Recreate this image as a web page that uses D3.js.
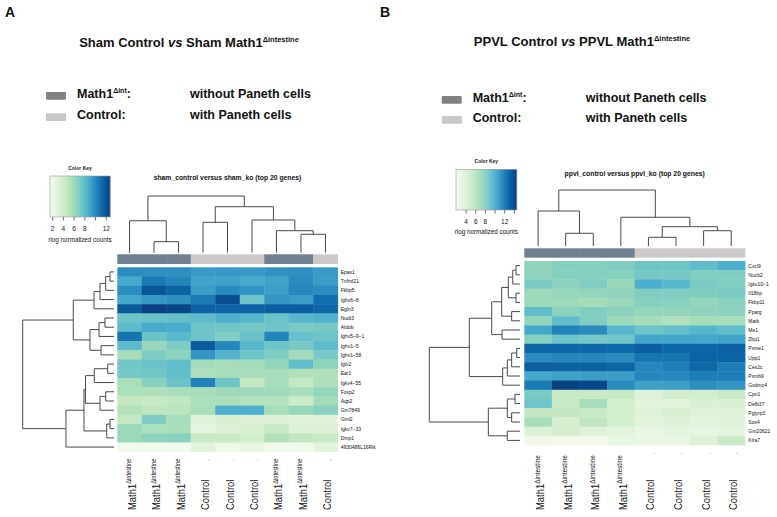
<!DOCTYPE html>
<html><head><meta charset="utf-8">
<script src="https://cdn.jsdelivr.net/npm/d3@7"></script>
<style>body{margin:0;background:#fff}svg{display:block;font-family:"Liberation Sans",Arial,sans-serif}</style>
</head><body><svg id="c" width="777" height="517"></svg>
<script>
// ---------- Panel A data (Sham) ----------
const shamSamples = ["Math1","Math1","Math1","Control","Control","Control","Math1","Math1","Control"];
const shamGroups  = ["ko","ko","ko","ctrl","ctrl","ctrl","ko","ko","ctrl"];
const shamGenes = ["Epas1","Tnfrsf21","Fkbp5","Ighv6\u22128","Egln3","Nudt3","Aldob","Ighv5\u22129\u22121","Ighv1\u22125","Ighv1\u221258",
  "Iglv2","Ear1","Igkv4\u221255","Foxp2","Aqp2","Gm7849","Gml2","Igkv7\u221233","Dmp1","4930486L16Rik"];
const shamValues = [
  [9.9, 9.8, 9.8, 9.4, 9.5, 9.4, 9.7, 9.8, 9.4],
  [8.8, 10.6, 10.2, 9.0, 9.1, 8.8, 9.1, 10.0, 9.3],
  [9.9, 11.9, 11.5, 9.3, 10.0, 9.6, 9.2, 10.1, 9.9],
  [8.9, 9.5, 9.8, 10.6, 12.2, 7.5, 9.6, 9.3, 11.0],
  [11.8, 12.7, 12.5, 11.5, 11.4, 11.5, 11.6, 11.6, 11.3],
  [7.5, 7.6, 7.8, 8.0, 8.6, 8.3, 7.6, 8.2, 8.5],
  [8.0, 8.8, 8.7, 7.5, 7.4, 7.3, 7.5, 7.1, 7.2],
  [10.8, 7.6, 8.1, 7.5, 6.9, 7.6, 10.2, 7.7, 7.5],
  [8.0, 6.2, 7.0, 11.8, 10.1, 8.2, 7.5, 7.2, 8.0],
  [5.7, 7.0, 6.6, 9.6, 8.4, 7.5, 7.0, 5.8, 7.2],
  [7.4, 7.6, 7.9, 5.8, 5.7, 5.8, 6.3, 7.9, 6.5],
  [7.3, 7.4, 7.8, 5.4, 5.7, 5.6, 5.7, 5.3, 5.3],
  [5.6, 6.7, 7.6, 10.3, 7.5, 4.5, 5.7, 4.6, 5.4],
  [5.5, 5.4, 5.6, 5.7, 6.0, 6.0, 5.9, 5.6, 6.3],
  [4.5, 4.4, 4.7, 5.5, 5.5, 5.2, 5.2, 4.1, 5.8],
  [5.3, 4.8, 4.9, 5.6, 8.6, 8.6, 5.7, 6.2, 6.7],
  [4.6, 7.0, 5.7, 3.0, 3.6, 3.2, 3.2, 3.0, 3.0],
  [6.1, 5.5, 5.6, 2.5, 3.2, 3.5, 4.4, 3.2, 3.2],
  [6.1, 6.5, 6.7, 4.3, 4.4, 3.8, 5.3, 4.7, 4.3],
  [1.8, 1.8, 1.8, 2.8, 2.1, 2.5, 1.8, 1.8, 2.8]
];
// merges: [childA, childB, height]; negative = leaf index (1-based), positive = earlier merge
const shamRowMerges = [
  [-1,-2,4.4],[1,-3,9.1],[2,-4,15.3],[3,-5,21.9],[-6,-7,9.9],[5,-8,16.4],[-9,-10,14.2],[6,7,26.3],[4,8,44.6],
  [-11,-12,6.9],[10,-13,21.6],[-14,-15,9.1],[12,-16,15.3],[11,13,31.2],[-17,-18,4.4],[15,-19,8.0],[14,16,32.9],
  [17,-20,52.6],[9,18,100]
];
const shamColMerges = [[-2,-3,19.4],[-1,1,56.4],[-4,-5,53.6],[-8,-9,32.5],[-7,4,38.8],[-6,5,57.7],[3,6,81.1],[2,7,100]];
const shamKeyDomain = [1.5, 12.7];
const shamKeyTicks = [2,4,6,8,10,12];
const shamKeyTickLabels = ["2","4","6","8","","12"];

// ---------- Panel B data (PPVL) ----------
const ppvlSamples = ["Math1","Math1","Math1","Math1","Control","Control","Control","Control"];
const ppvlGroups  = ["ko","ko","ko","ko","ctrl","ctrl","ctrl","ctrl"];
const ppvlGenes = ["Cxcl9","Nucb2","Igkv10\u22121","Il18bp","Fkbp11","Pparg","Matk","Me1","Zbp1","Psme1",
  "Upp1","Ces2c","Psmb9","Gsdmc4","Cpn1","Defb37","Pglyrp3","Sox4","Gm20621","Klra7"];
const ppvlValues = [
  [7.5, 7.8, 7.8, 8.0, 8.6, 8.6, 9.1, 9.9],
  [7.5, 7.8, 7.9, 7.8, 8.4, 8.4, 8.0, 8.0],
  [8.2, 7.6, 8.0, 7.1, 9.9, 9.4, 8.2, 8.0],
  [7.0, 7.2, 7.3, 7.5, 8.0, 8.0, 8.0, 8.2],
  [7.0, 7.0, 6.7, 7.1, 7.8, 7.7, 7.3, 7.7],
  [9.1, 7.6, 8.0, 7.6, 7.3, 7.3, 7.5, 7.6],
  [7.3, 9.1, 8.0, 7.0, 6.7, 6.3, 6.7, 6.6],
  [10.2, 11.8, 11.4, 9.5, 8.7, 9.0, 9.5, 9.1],
  [7.8, 8.7, 8.4, 8.6, 10.3, 10.3, 10.2, 10.4],
  [13.0, 13.0, 12.9, 12.8, 13.3, 13.0, 13.0, 13.2],
  [11.4, 11.6, 11.6, 11.4, 12.3, 12.3, 13.1, 13.1],
  [13.3, 13.2, 13.1, 13.0, 11.6, 12.0, 12.9, 12.0],
  [10.2, 10.5, 10.6, 10.6, 11.6, 11.6, 12.0, 12.0],
  [12.1, 14.5, 14.2, 11.4, 10.5, 10.6, 11.3, 11.0],
  [8.2, 5.2, 5.2, 5.2, 3.6, 4.5, 4.5, 5.0],
  [8.6, 5.2, 6.6, 4.5, 3.4, 3.4, 4.0, 4.0],
  [5.4, 5.4, 5.1, 4.5, 3.6, 4.3, 3.7, 3.7],
  [6.6, 4.2, 5.6, 4.5, 3.4, 3.6, 3.4, 3.5],
  [3.9, 4.4, 3.7, 3.4, 2.9, 3.2, 3.0, 3.2],
  [2.4, 2.2, 2.2, 3.0, 2.8, 2.8, 3.6, 5.0]
];
const ppvlRowMerges = [
  [-1,-2,4.4],[1,-3,8.0],[-4,-5,4.4],[2,3,12.9],[-6,-7,9.2],[4,5,20.2],[-8,-9,19.8],[6,7,31.2],
  [-10,-11,3.6],[9,-12,9.2],[10,-13,14.0],[11,-14,19.1],[8,12,55.9],
  [-15,-16,5.5],[-17,-18,9.2],[14,15,14.0],[-19,-20,14.0],[16,17,34.9],[13,18,100]
];
const ppvlColMerges = [[-2,-3,22.7],[-1,1,62.5],[-5,-6,15.5],[-7,-8,27.3],[3,4,34.5],[-4,5,51.3],[2,6,100]];
const ppvlKeyDomain = [1.9, 14.5];
const ppvlKeyTicks = [4,6,8,10,12,14];
const ppvlKeyTickLabels = ["4","6","8","","12",""];

// ---------- drawing ----------
const svg = d3.select("#c");
const FONT = '"Liberation Sans",Arial,sans-serif';

function layoutTree(merges, leafPos) {
  const nodes = [];
  const pos = k => k < 0 ? leafPos(-k - 1) : nodes[k - 1].pos;
  const hgt = k => k < 0 ? 0 : nodes[k - 1].h;
  merges.forEach(m => {
    nodes.push({h: m[2], pa: pos(m[0]), pb: pos(m[1]), ha: hgt(m[0]), hb: hgt(m[1]),
      pos: (pos(m[0]) + pos(m[1])) / 2});
  });
  return nodes;
}

function drawPanel(p) {
  const g = svg.append("g");
  const nC = p.samples.length, nR = p.genes.length;
  const x = d3.scaleBand().domain(d3.range(nC)).range([p.hx0, p.hx1]);
  const y = d3.scaleBand().domain(d3.range(nR)).range([p.hy0, p.hy1]);
  const color = d3.scaleSequential(d3.interpolateGnBu).domain(p.keyDomain);
  const groupColor = d3.scaleOrdinal().domain(["ko","ctrl"]).range(["#708090","#cdc9c9"]);

  // heat cells
  g.append("g").selectAll("rect")
    .data(p.values.flatMap((row, i) => row.map((v, j) => ({i, j, v}))))
    .join("rect")
    .attr("x", d => x(d.j)).attr("y", d => y(d.i))
    .attr("width", x.bandwidth() + 0.4).attr("height", y.bandwidth() + 0.4)
    .attr("fill", d => color(d.v));

  // side colour bar
  g.append("g").selectAll("rect").data(p.groups).join("rect")
    .attr("x", (d, j) => x(j)).attr("y", p.cb0)
    .attr("width", x.bandwidth() + 0.4).attr("height", p.cb1 - p.cb0)
    .attr("fill", d => groupColor(d));

  // row dendrogram
  const hx = d3.scaleLinear().domain([0, 100]).range([p.rdLeaf, p.rdRoot]);
  const rowNodes = layoutTree(p.rowMerges, i => y(i) + y.bandwidth() / 2);
  g.append("g").selectAll("path").data(rowNodes).join("path")
    .attr("d", n => `M${hx(n.ha)},${n.pa}H${hx(n.h)}V${n.pb}H${hx(n.hb)}`)
    .attr("fill", "none").attr("stroke", "#4a4a4a").attr("stroke-width", 1);

  // column dendrogram
  const vy = d3.scaleLinear().domain([0, 100]).range([p.cdLeaf, p.cdRoot]);
  const colNodes = layoutTree(p.colMerges, j => x(j) + x.bandwidth() / 2);
  g.append("g").selectAll("path").data(colNodes).join("path")
    .attr("d", n => `M${n.pa},${vy(n.ha)}V${vy(n.h)}H${n.pb}V${vy(n.hb)}`)
    .attr("fill", "none").attr("stroke", "#4a4a4a").attr("stroke-width", 1);

  // gene labels
  g.append("g").selectAll("text").data(p.genes).join("text")
    .attr("x", p.glx).attr("y", (d, i) => y(i) + y.bandwidth() / 2)
    .attr("dominant-baseline", "central")
    .attr("font-size", 5).attr("fill", "#111").text(d => d);

  // column labels
  const cl = g.append("g");
  p.samples.forEach((s, j) => {
    const cx = x(j) + x.bandwidth() / 2 + 6;
    const t = cl.append("g").attr("transform", `translate(${cx},${p.clY}) rotate(-90) scale(0.82,1)`);
    const tx = t.append("text").attr("font-size", 11.5).attr("fill", "#111");
    tx.append("tspan").text(s);
    if (s === "Math1") {
      tx.append("tspan").attr("font-size", p.supSize).attr("dy", -4.5).text("\u0394intestine");
    } else {
      t.append("text").attr("x", (p.clY - p.dotY) / 0.82).attr("font-size", 7).attr("fill", "#333").text(".");
    }
  });

  // colour key
  const kx = d3.scaleLinear().domain(p.keyDomain).range([p.kx0, p.kx1]);
  const steps = d3.range(0, 60);
  const kg = g.append("g");
  kg.selectAll("rect").data(steps).join("rect")
    .attr("x", i => p.kx0 + (p.kx1 - p.kx0) * i / 60).attr("y", p.ky0)
    .attr("width", (p.kx1 - p.kx0) / 60 + 0.4).attr("height", p.ky1 - p.ky0)
    .attr("fill", i => color(p.keyDomain[0] + (p.keyDomain[1] - p.keyDomain[0]) * (i + 0.5) / 60));
  kg.append("rect").attr("x", p.kx0).attr("y", p.ky0).attr("width", p.kx1 - p.kx0).attr("height", p.ky1 - p.ky0)
    .attr("fill", "none").attr("stroke", "#999").attr("stroke-width", 0.6);
  kg.selectAll("line").data(p.keyTicks).join("line")
    .attr("x1", d => kx(d)).attr("x2", d => kx(d)).attr("y1", p.ky1).attr("y2", p.ky1 + 3.5)
    .attr("stroke", "#333").attr("stroke-width", 0.7);
  kg.selectAll("text.tl").data(p.keyTicks).join("text").attr("class", "tl")
    .attr("x", d => kx(d)).attr("y", p.ktY).attr("text-anchor", "middle")
    .attr("font-size", 6.5).attr("fill", "#111").text((d, i) => p.keyTickLabels[i]);
  kg.append("text").attr("x", (p.kx0 + p.kx1) / 2).attr("y", p.ky0 - 6.5).attr("text-anchor", "middle")
    .attr("font-size", 5).attr("font-weight", "bold").attr("fill", "#222").text("Color Key");
  kg.append("text").attr("x", (p.kx0 + p.kx1) / 2).attr("y", p.krY).attr("text-anchor", "middle")
    .attr("font-size", 6.3).attr("fill", "#111").text("rlog normalized counts");

  // subtitle
  g.append("text").attr("x", (p.hx0 + p.hx1) / 2).attr("y", p.subY).attr("text-anchor", "middle")
    .attr("font-size", 6.8).attr("font-weight", "bold").attr("fill", "#111").text(p.subtitle);

  // title
  const tt = g.append("text").attr("x", p.titleX).attr("y", p.titleY).attr("text-anchor", "middle")
    .attr("font-size", 13).attr("font-weight", "bold").attr("fill", "#111");
  tt.append("tspan").text(p.titleA + " ");
  tt.append("tspan").attr("font-style", "italic").text("vs");
  tt.append("tspan").text(" " + p.titleB + " Math1");
  tt.append("tspan").attr("font-size", 7.5).attr("dy", -5).text("\u0394intestine");

  // panel letter
  g.append("text").attr("x", p.letterX).attr("y", 17).attr("font-size", 14).attr("font-weight", "bold")
    .attr("fill", "#111").text(p.letter);

  // legend
  const legRows = [{c: "#808080", lab: "Math1", sup: "\u0394int", desc: "without Paneth cells"},
                   {c: "#c8c8c8", lab: "Control", sup: "", desc: "with Paneth cells"}];
  legRows.forEach((r, k) => {
    const by = p.legY + k * p.legDY;
    g.append("rect").attr("x", p.legX).attr("y", by - 5.8).attr("width", 20).attr("height", 7.8)
      .attr("rx", 1).attr("fill", r.c);
    const t = g.append("text").attr("x", p.legX + 31).attr("y", by).attr("font-size", 12.5)
      .attr("font-weight", "bold").attr("fill", "#111");
    t.append("tspan").text(r.lab);
    if (r.sup) {
      t.append("tspan").attr("font-size", 7).attr("dy", -5).text(r.sup);
      t.append("tspan").attr("dy", 5).text(":");
    } else t.append("tspan").text(":");
    g.append("text").attr("x", p.legDescX).attr("y", by).attr("font-size", 12.5)
      .attr("font-weight", "bold").attr("fill", "#111").text(r.desc);
  });
}

drawPanel({
  samples: shamSamples, groups: shamGroups, genes: shamGenes, values: shamValues,
  rowMerges: shamRowMerges, colMerges: shamColMerges,
  keyDomain: shamKeyDomain, keyTicks: shamKeyTicks, keyTickLabels: shamKeyTickLabels,
  hx0: 117.3, hx1: 337.7, hy0: 267.3, hy1: 451.7, cb0: 254.3, cb1: 264,
  rdLeaf: 114, rdRoot: 22.7, cdLeaf: 252.7, cdRoot: 196, glx: 340.7,
  clY: 510, dotY: 461, supSize: 7,
  kx0: 50, kx1: 110, ky0: 176, ky1: 217, ktY: 230.5, krY: 241.5,
  subY: 179.5, subtitle: "sham_control versus sham_ko (top 20 genes)",
  titleX: 189, titleY: 46.7, titleA: "Sham Control", titleB: "Sham",
  letter: "A", letterX: 5,
  legX: 46, legY: 97.7, legDY: 21.3, legDescX: 190
});

drawPanel({
  samples: ppvlSamples, groups: ppvlGroups, genes: ppvlGenes, values: ppvlValues,
  rowMerges: ppvlRowMerges, colMerges: ppvlColMerges,
  keyDomain: ppvlKeyDomain, keyTicks: ppvlKeyTicks, keyTickLabels: ppvlKeyTickLabels,
  hx0: 524.3, hx1: 745, hy0: 261, hy1: 445, cb0: 248.3, cb1: 257.7,
  rdLeaf: 520, rdRoot: 429.3, cdLeaf: 246, cdRoot: 190, glx: 748.3,
  clY: 510, dotY: 454, supSize: 8,
  kx0: 456, kx1: 516.7, ky0: 169.3, ky1: 210, ktY: 224, krY: 234,
  subY: 175.5, subtitle: "ppvl_control versus ppvl_ko (top 20 genes)",
  titleX: 582, titleY: 45.7, titleA: "PPVL Control", titleB: "PPVL",
  letter: "B", letterX: 380,
  legX: 441.7, legY: 101.7, legDY: 20, legDescX: 585.7
});
</script></body></html>
